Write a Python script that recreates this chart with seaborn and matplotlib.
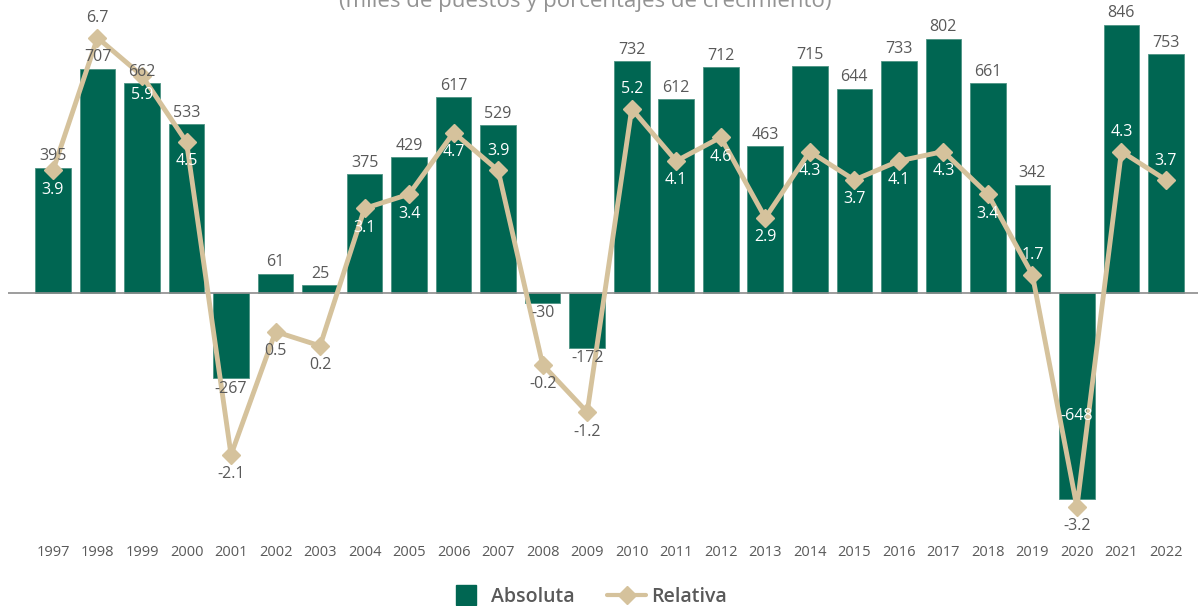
import numpy as np
import matplotlib
matplotlib.use("Agg")
import matplotlib.pyplot as plt
from matplotlib.lines import Line2D
import seaborn as sns

years = [str(y) for y in range(1997, 2023)]
absoluta = [395, 707, 662, 533, -267, 61, 25, 375, 429, 617, 529, -30, -172,
            732, 612, 712, 463, 715, 644, 733, 802, 661, 342, -648, 846, 753]
relativa = [3.9, 6.7, 5.9, 4.5, -2.1, 0.5, 0.2, 3.1, 3.4, 4.7, 3.9, -0.2, -1.2,
            5.2, 4.1, 4.6, 2.9, 4.3, 3.7, 4.1, 4.3, 3.4, 1.7, -3.2, 4.3, 3.7]
# label placement for relativa: +1 above marker, -1 below
rel_pos = [-1, 1, -1, -1, -1, -1, -1, -1, -1, -1, 1, -1, -1,
           1, -1, -1, -1, -1, -1, -1, -1, -1, 1, -1, 1, 1]
# whether relativa label sits on a bar (white text)
rel_white = [1, 0, 1, 1, 0, 0, 0, 1, 1, 1, 1, 0, 0,
             1, 1, 1, 1, 1, 1, 1, 1, 1, 1, 0, 1, 1]

GREEN = "#006652"
TAN = "#D5C29C"
GRAY = "#595959"

sns.set_theme(style="white")
plt.rcParams['font.family'] = ['Open Sans', 'DejaVu Sans']

W, H = 1200, 606
fig = plt.figure(figsize=(W / 100, H / 100), dpi=100)
T, B, L, R = 15, 535, 8, 1198
ax = fig.add_axes([L / W, 1 - B / H, (R - L) / W, (B - T) / H])

sns.barplot(x=years, y=absoluta, ax=ax, color=GREEN, saturation=1, width=0.8,
            edgecolor="#4d9484", linewidth=0.6)
ax.set_ylim(-763, 877)
ax.axhline(0, color="#8c8c8c", lw=1.2, zorder=1)

ax2 = ax.twinx()
sns.pointplot(x=years, y=relativa, ax=ax2, color=TAN, markers="D",
              markersize=9, linewidth=3.5, markeredgewidth=1)
ax2.set_ylim(-3.79, 7.18)
ax.set_xlim(-1.01, 25.72)
ax2.set_xlim(-1.01, 25.72)

for a in (ax, ax2):
    for s in a.spines.values():
        s.set_visible(False)
    a.set_yticks([])
    a.set_ylabel("")
    a.set_xlabel("")
ax.tick_params(axis="x", length=0, pad=7, labelsize=10.5, labelcolor=GRAY)

# bar value labels
for i, v in enumerate(absoluta):
    if v >= 0:
        ax2.annotate(f"{v}", (i, v), xycoords=ax.transData, xytext=(0, 2.5),
                     textcoords="offset points", ha="center", va="bottom",
                     fontsize=11.5, color=GRAY, zorder=10)
    elif v < -500:
        ax2.annotate(f"{v}", (i, v * 0.6), xycoords=ax.transData,
                     ha="center", va="center", fontsize=11.5, color="white", zorder=10)
    else:
        ax2.annotate(f"{v}", (i, v), xycoords=ax.transData, xytext=(0, -2),
                     textcoords="offset points", ha="center", va="top",
                     fontsize=11.5, color=GRAY, zorder=10)

# relativa labels
for i, v in enumerate(relativa):
    ax2.annotate(f"{v}", (i, v), xytext=(0, 14 * rel_pos[i]),
                 textcoords="offset points", ha="center", va="center",
                 fontsize=11.5, color="white" if rel_white[i] else GRAY, zorder=10)

fig.text(0.488, 1 - 1 / H, "(miles de puestos y porcentajes de crecimiento)",
         ha="center", va="center", fontsize=16, color="#939393")

handles = [Line2D([], [], marker="s", color=GREEN, ls="none", markersize=15),
           Line2D([], [], marker="D", color=TAN, lw=3, markersize=9)]
leg = fig.legend(handles, ["Absoluta", "Relativa"], loc="center",
                 bbox_to_anchor=(587 / W, 1 - 597 / H), ncol=2, frameon=False,
                 fontsize=14, handlelength=2.0, columnspacing=1.7,
                 handletextpad=0.25)
for t in leg.get_texts():
    t.set_color(GRAY)
    t.set_fontweight("semibold")

fig.savefig("out.png", dpi=100)
